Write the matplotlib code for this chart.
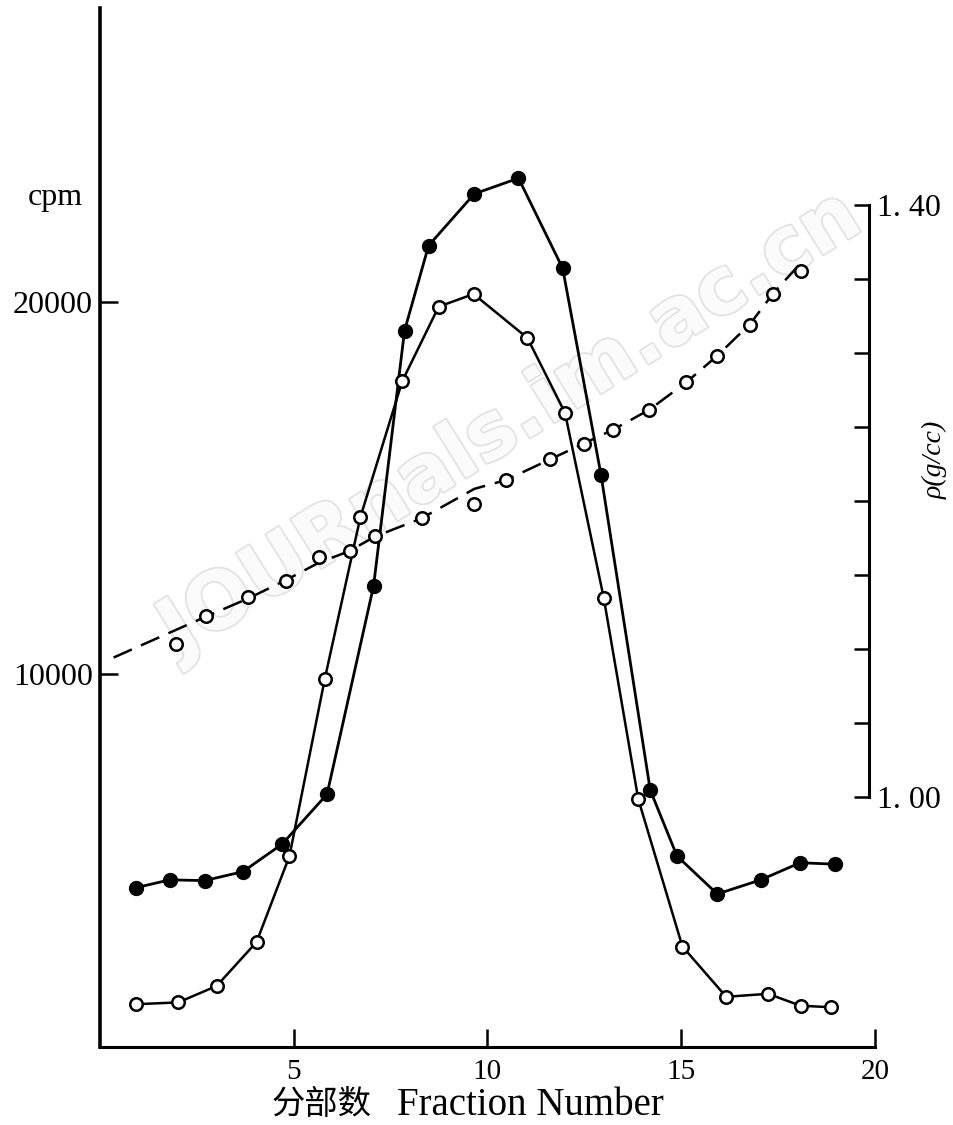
import numpy as np
import matplotlib
matplotlib.use("Agg")
import matplotlib.pyplot as plt
import matplotlib.patheffects as pe

# fraction number / cpm, filled circles
frac_filled = [0.93, 1.80, 2.70, 3.69, 4.70, 5.86, 7.06, 7.86, 8.48, 9.66,
               10.80, 11.94, 12.93, 14.20, 14.89, 15.93, 17.05, 18.07, 18.97]
cpm_filled = [4270, 4480, 4460, 4700, 5440, 6780, 12370, 19230, 21510, 22900,
              23320, 20900, 15350, 6890, 5120, 4100, 4480, 4940, 4900]

# fraction number / cpm, open circles
frac_open = [0.93, 2.02, 3.01, 4.04, 4.89, 5.80, 6.72, 7.80, 8.74, 9.64,
             11.03, 12.00, 13.00, 13.89, 15.03, 16.16, 17.24, 18.08, 18.86]
cpm_open = [1140, 1190, 1630, 2810, 5120, 9870, 14220, 17870, 19870, 20210,
            19030, 17020, 12050, 6650, 2690, 1340, 1420, 1100, 1060]

# density measurements (open circles on the dashed curve)
frac_rho = [1.95, 2.73, 3.83, 4.80, 5.64, 6.44, 7.09, 8.31, 9.66, 10.48,
            11.62, 12.48, 13.25, 14.18, 15.12, 15.92, 16.78, 17.36, 18.09]
rho = [1.103, 1.122, 1.135, 1.146, 1.162, 1.166, 1.176, 1.188, 1.198, 1.214,
       1.228, 1.238, 1.248, 1.261, 1.280, 1.298, 1.319, 1.340, 1.355]

# dashed density curve as drawn
fit_frac = [0.35, 2.72, 3.83, 4.81, 5.64, 6.44, 7.08, 8.29, 9.66, 10.48,
            11.62, 12.47, 13.24, 14.17, 15.13, 15.93, 16.78, 17.37, 18.20]
fit_rho = [1.094, 1.1215, 1.134, 1.1465, 1.158, 1.166, 1.1756, 1.188, 1.208,
           1.214, 1.228, 1.2385, 1.248, 1.2614, 1.280, 1.298, 1.3196, 1.340,
           1.364]

x_ticks = [5, 10, 15, 20]
cpm_ticks = [10000, 20000]
rho_ticks = [1.00, 1.05, 1.10, 1.15, 1.20, 1.25, 1.30, 1.35, 1.40]
rho_labels = ["1. 00", "", "", "", "", "", "", "", "1. 40"]

plt.rcParams['font.family'] = ['Liberation Serif', 'Noto Sans CJK SC']

fig = plt.figure(figsize=(9.54, 11.25), dpi=100)
ax = fig.add_axes([0.1048, 0.0696, 0.8124, 0.9233])
ax2 = ax.twinx()

# scanned-page watermark, kept under the curves
ax.text(0.535, 0.623, "JOURnals.im.ac.cn", transform=fig.transFigure,
        rotation=32, ha='center', va='center', fontsize=57,
        family='DejaVu Sans', fontweight='bold', color='#fbfbfb', zorder=1,
        path_effects=[pe.withStroke(linewidth=2.5, foreground='#e2e2e2')])

ax.plot(frac_filled, cpm_filled, color='black', lw=2, marker='o',
        ms=10, mfc='black', mec='black', zorder=3)
ax.plot(frac_open, cpm_open, color='black', lw=1.8, marker='o',
        ms=9, mfc='white', mec='black', mew=1.8, zorder=3)

ax2.plot(fit_frac, fit_rho, color='black', lw=1.8, dashes=(8, 4), zorder=2)
ax2.plot(frac_rho, rho, ls='none', marker='o', ms=9, mfc='white',
         mec='black', mew=1.8, zorder=3)

ax.set_xlim(0, 20)
ax.set_ylim(0, 27890)
ax2.set_ylim(0.831, 1.533)

for s in ['top', 'right']:
    ax.spines[s].set_visible(False)
for s in ['top', 'left', 'bottom']:
    ax2.spines[s].set_visible(False)
ax.spines['left'].set_linewidth(2.6)
ax.spines['bottom'].set_linewidth(2.2)
ax2.spines['right'].set_linewidth(2.2)
ax2.spines['right'].set_bounds(1.0, 1.4)
ax2.spines['right'].set_position(('axes', 0.992))

ax.set_xticks(x_ticks)
ax.set_yticks(cpm_ticks)
ax.tick_params(axis='x', direction='in', length=13, width=1.8, pad=9,
               labelsize=21)
ax.tick_params(axis='y', direction='in', length=13, width=1.8, pad=5,
               labelsize=23)

ax2.set_yticks(rho_ticks)
ax2.set_yticklabels(rho_labels)
ax2.tick_params(axis='y', direction='in', length=11, width=1.8, pad=6,
                labelsize=23)

fig.text(0.058, 0.824, "cpm", fontsize=23, ha='center', va='center')
fig.text(0.980, 0.591, "ρ(g/cc)", fontsize=20, style='italic',
         rotation=90, ha='center', va='center')

# x-axis title: Chinese part and English part placed as in the print
fig.text(0.285, 0.017, "分部数", fontsize=24, ha='left', va='center')
fig.text(0.556, 0.017, "Fraction Number", fontsize=28, ha='center',
         va='center')

fig.savefig("out.png", dpi=100)
